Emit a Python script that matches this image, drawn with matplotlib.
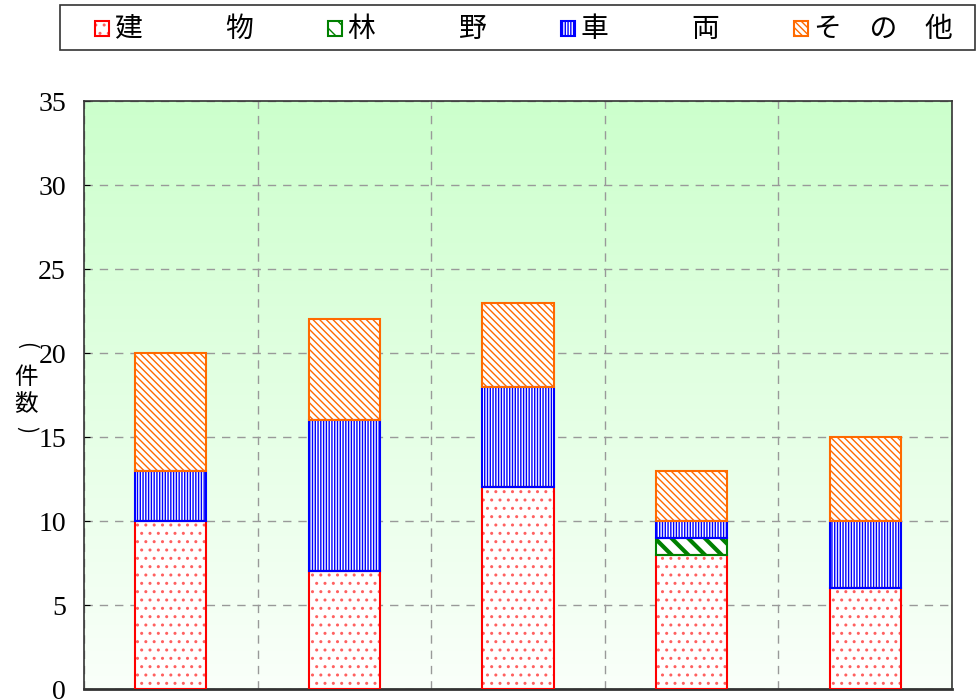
import numpy as np
import matplotlib.pyplot as plt
from matplotlib.patches import Rectangle

plt.rcParams['font.family'] = ['Liberation Serif', 'Noto Sans CJK JP']
plt.rcParams['hatch.linewidth'] = 1.0

# data
categories = ['1', '2', '3', '4', '5']
series_names = ['建　　　物', '林　　　野', '車　　　両', 'そ　の　他']
building = [10, 7, 12, 8, 6]
forest = [0, 0, 0, 1, 0]
vehicle = [3, 9, 6, 1, 4]
other = [7, 6, 5, 3, 5]

colors = ['#ff0000', '#008000', '#0000ff', '#ff6a00']
hatch_colors = ['#ff6060', '#008000', '#0000ff', '#ff6a00']
hatches = ['..', '\\\\', '||||||', '\\\\\\\\\\']

W, H = 977, 699
fig = plt.figure(figsize=(W / 100, H / 100), dpi=100)
ax = fig.add_axes([0.086, 0.0143, 0.8884, 0.8412])

x = np.arange(len(categories))
ax.set_xlim(-0.5, len(categories) - 0.5)
ax.set_ylim(0, 35)

# gradient background
grad = np.linspace(0, 1, 256).reshape(-1, 1)
top = np.array([0.80, 1.0, 0.80])
bot = np.array([0.98, 1.0, 0.98])
img = bot + (top - bot) * grad[..., None]
ax.imshow(img, extent=[-0.5, len(categories) - 0.5, 0, 35], origin='lower',
          aspect='auto', zorder=0)

bottom = np.zeros(len(categories))
for vals, c, hc, h in zip([building, forest, vehicle, other], colors, hatch_colors, hatches):
    vals = np.array(vals, dtype=float)
    # hatch layer, then outline on top
    bars = ax.bar(x, vals, 0.41, bottom=bottom, facecolor='white', edgecolor=hc,
                  hatch=h, linewidth=0, zorder=3)
    if c == '#008000':
        for b in bars:
            try:
                b.set_hatch_linewidth(3)
            except AttributeError:
                pass
    ax.bar(x, vals, 0.41, bottom=bottom, facecolor='none', edgecolor=c,
           linewidth=1.5, zorder=4)
    bottom += vals

ax.set_yticks(np.arange(0, 36, 5))
ax.set_xticks(np.arange(-0.5, len(categories), 1))
ax.set_xticklabels([])
ax.tick_params(axis='x', length=0)
ax.tick_params(axis='y', direction='in', length=4, labelsize=20, pad=13)
ax.grid(True, color='#999999', linestyle=(0, (6, 5)), linewidth=1, zorder=1)
ax.set_axisbelow(True)
for s in ax.spines.values():
    s.set_color('#333333')
    s.set_linewidth(1.2)
ax.spines['bottom'].set_linewidth(2)

# vertical y label (件数) with arc parentheses
cjk = 'Noto Sans CJK JP'
lx = 26 / W
fig.text(lx, 1 - 346 / H, '(', rotation=-90, ha='center', va='center',
         fontsize=15, family=cjk)
fig.text(lx, 1 - 377 / H, '件', ha='center', va='center', fontsize=17, family=cjk)
fig.text(lx, 1 - 405 / H, '数', ha='center', va='center', fontsize=17, family=cjk)
fig.text(lx, 1 - 430 / H, ')', rotation=-90, ha='center', va='center',
         fontsize=15, family=cjk)

# legend box drawn by hand
frame = Rectangle((60 / W, 1 - 50 / H), 915 / W, 45 / H, transform=fig.transFigure,
                  facecolor='white', edgecolor='#333333', linewidth=1.2)
fig.patches.append(frame)
for i, (name, c, hc, h) in enumerate(zip(series_names, colors, hatch_colors, hatches)):
    x0 = 95 + 233 * i
    fig.patches.append(Rectangle((x0 / W, 1 - 36 / H), 14 / W, 15 / H,
                                 transform=fig.transFigure, facecolor='white',
                                 edgecolor=hc, hatch=h, linewidth=0))
    fig.patches.append(Rectangle((x0 / W, 1 - 36 / H), 14 / W, 15 / H,
                                 transform=fig.transFigure, facecolor='none',
                                 edgecolor=c, linewidth=1.5))
    fig.text((x0 + 20) / W, 1 - 29 / H, name, ha='left', va='center',
             fontsize=20, family=cjk)

fig.savefig('out.png', dpi=100)
